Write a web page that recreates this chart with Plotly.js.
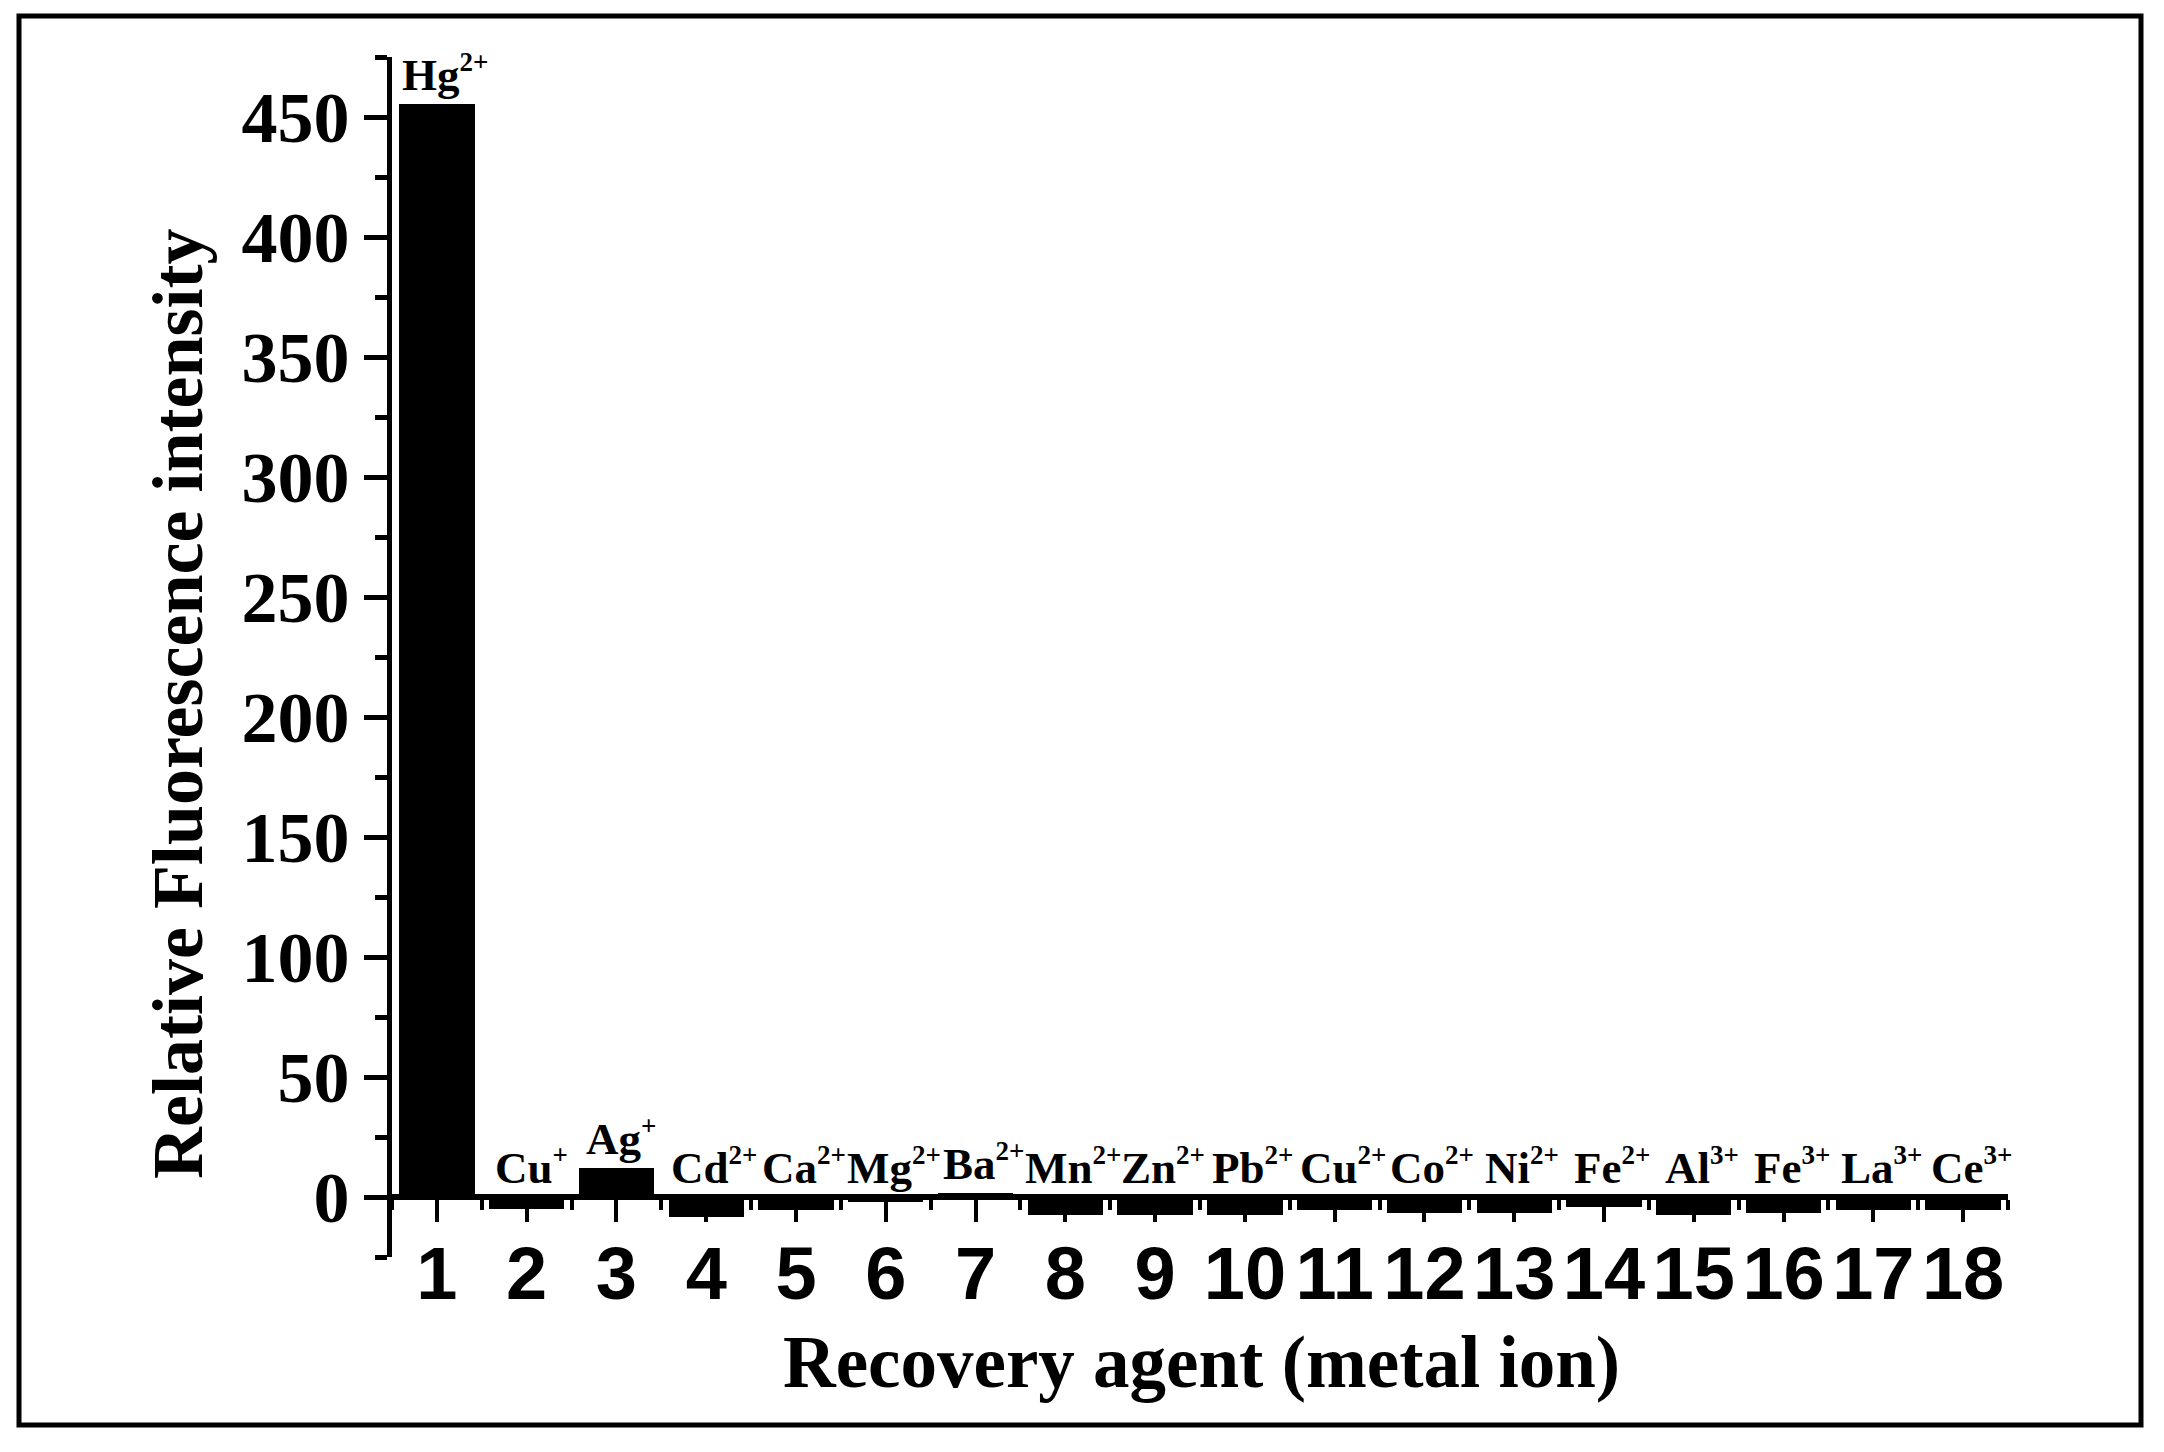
<!DOCTYPE html>
<html>
<head>
<meta charset="utf-8">
<script src="https://cdn.plot.ly/plotly-3.0.1.min.js"></script>
<style>
html, body { margin: 0; padding: 0; background: #fff; }
#chart { width: 2164px; height: 1452px; }
</style>
</head>
<body>
<div id="chart"></div>
<script>
// ---- data ----
const sampleNumbers = [1, 2, 3, 4, 5, 6, 7, 8, 9, 10, 11, 12, 13, 14, 15, 16, 17, 18];
const ionSymbols = ["Hg", "Cu", "Ag", "Cd", "Ca", "Mg", "Ba", "Mn", "Zn", "Pb",
  "Cu", "Co", "Ni", "Fe", "Al", "Fe", "La", "Ce"];
const ionCharges = ["2+", "+", "+", "2+", "2+", "2+", "2+", "2+", "2+", "2+",
  "2+", "2+", "2+", "2+", "3+", "3+", "3+", "3+"];
const intensity = [455.5, -5.2, 11.9, -8.4, -5.3, -2.2, 1.5, -7.3, -7.3, -7.3, -5.6, -6.7, -6.7, -4.2, -7.3, -6.7, -5.6, -5.6];
const yTickVals = [0, 50, 100, 150, 200, 250, 300, 350, 400, 450];
const xTitle = "Recovery agent (metal ion)";
const yTitle = "Relative Fluorescence intensity";

// ---- layout geometry (pixels) ----
const W = 2164, H = 1452;
const M = { l: 392, r: 156, t: 57, b: 195 };
const PW = W - M.l - M.r, PH = H - M.t - M.b;
const px2x = p => (p - M.l) / PW;
const px2y = p => (H - M.b - p) / PH;

const yMin = -25, yMax = 475;
const serif = "Liberation Serif, Times New Roman, serif";
const sans = "Liberation Sans, Arial, sans-serif";

const trace = {
  type: "bar",
  x: sampleNumbers,
  y: intensity,
  width: 0.84,
  marker: { color: "#000000", line: { width: 0 } },
  hoverinfo: "x+y"
};

const ionAnnotations = sampleNumbers.map((n, i) => ({
  x: n,
  y: Math.max(intensity[i], 0),
  xref: "x", yref: "y",
  text: "<b>" + ionSymbols[i] + "<sup><span style=\"font-size:27px\">" + ionCharges[i] + "</span></sup></b>",
  showarrow: false,
  xanchor: "center",
  yanchor: "bottom",
  xshift: ionCharges[i].length > 1 ? 8 : 5,
  yshift: 2,
  font: { family: serif, size: 45, color: "#000", weight: "bold" }
}));

const titleAnnotations = [
  {
    xref: "paper", yref: "paper",
    x: px2x(1201), y: px2y(1362),
    xanchor: "center", yanchor: "middle",
    text: xTitle, showarrow: false,
    font: { family: serif, size: 73, color: "#000", weight: "bold" }
  },
  {
    xref: "paper", yref: "paper",
    x: px2x(178), y: px2y(704),
    xanchor: "center", yanchor: "middle",
    textangle: -90,
    text: yTitle, showarrow: false,
    font: { family: serif, size: 72, color: "#000", weight: "bold" }
  }
];

const layout = {
  width: W, height: H,
  margin: M,
  paper_bgcolor: "#fff",
  plot_bgcolor: "#fff",
  showlegend: false,
  bargap: 0,
  xaxis: {
    type: "linear",
    range: [0.5, 18.5],
    anchor: "free",
    position: (0 - yMin) / (yMax - yMin),
    showgrid: false,
    zeroline: false,
    showline: true,
    linecolor: "#000",
    linewidth: 6,
    tickmode: "array",
    tickvals: sampleNumbers,
    ticktext: sampleNumbers.map(String),
    ticks: "outside",
    ticklen: 22,
    tickwidth: 4,
    tickcolor: "#000",
    ticklabelstandoff: -12,
    tickfont: { family: sans, size: 74, color: "#000", weight: "bold" },
    minor: { tickmode: "linear", tick0: 0.5, dtick: 1, ticks: "outside", ticklen: 10, tickwidth: 4, tickcolor: "#000", showgrid: false },
    fixedrange: true
  },
  yaxis: {
    range: [yMin, yMax],
    showgrid: false,
    zeroline: false,
    showline: true,
    linecolor: "#000",
    linewidth: 5,
    tickmode: "array",
    tickvals: yTickVals,
    ticktext: yTickVals.map(String),
    ticks: "outside",
    ticklen: 23,
    tickwidth: 5,
    tickcolor: "#000",
    tickfont: { family: serif, size: 72, color: "#000", weight: "bold" },
    minor: { tickmode: "linear", tick0: 25, dtick: 50, ticks: "outside", ticklen: 12, tickwidth: 5, tickcolor: "#000", showgrid: false },
    fixedrange: true
  },
  annotations: ionAnnotations.concat(titleAnnotations),
  shapes: [
    {
      type: "rect", xref: "paper", yref: "paper",
      x0: px2x(19), x1: px2x(2141), y0: px2y(1425), y1: px2y(16),
      line: { color: "#000", width: 5 },
      fillcolor: "rgba(0,0,0,0)"
    }
  ]
};

Plotly.newPlot("chart", [trace], layout, { displayModeBar: false, staticPlot: true });
</script>
</body>
</html>
